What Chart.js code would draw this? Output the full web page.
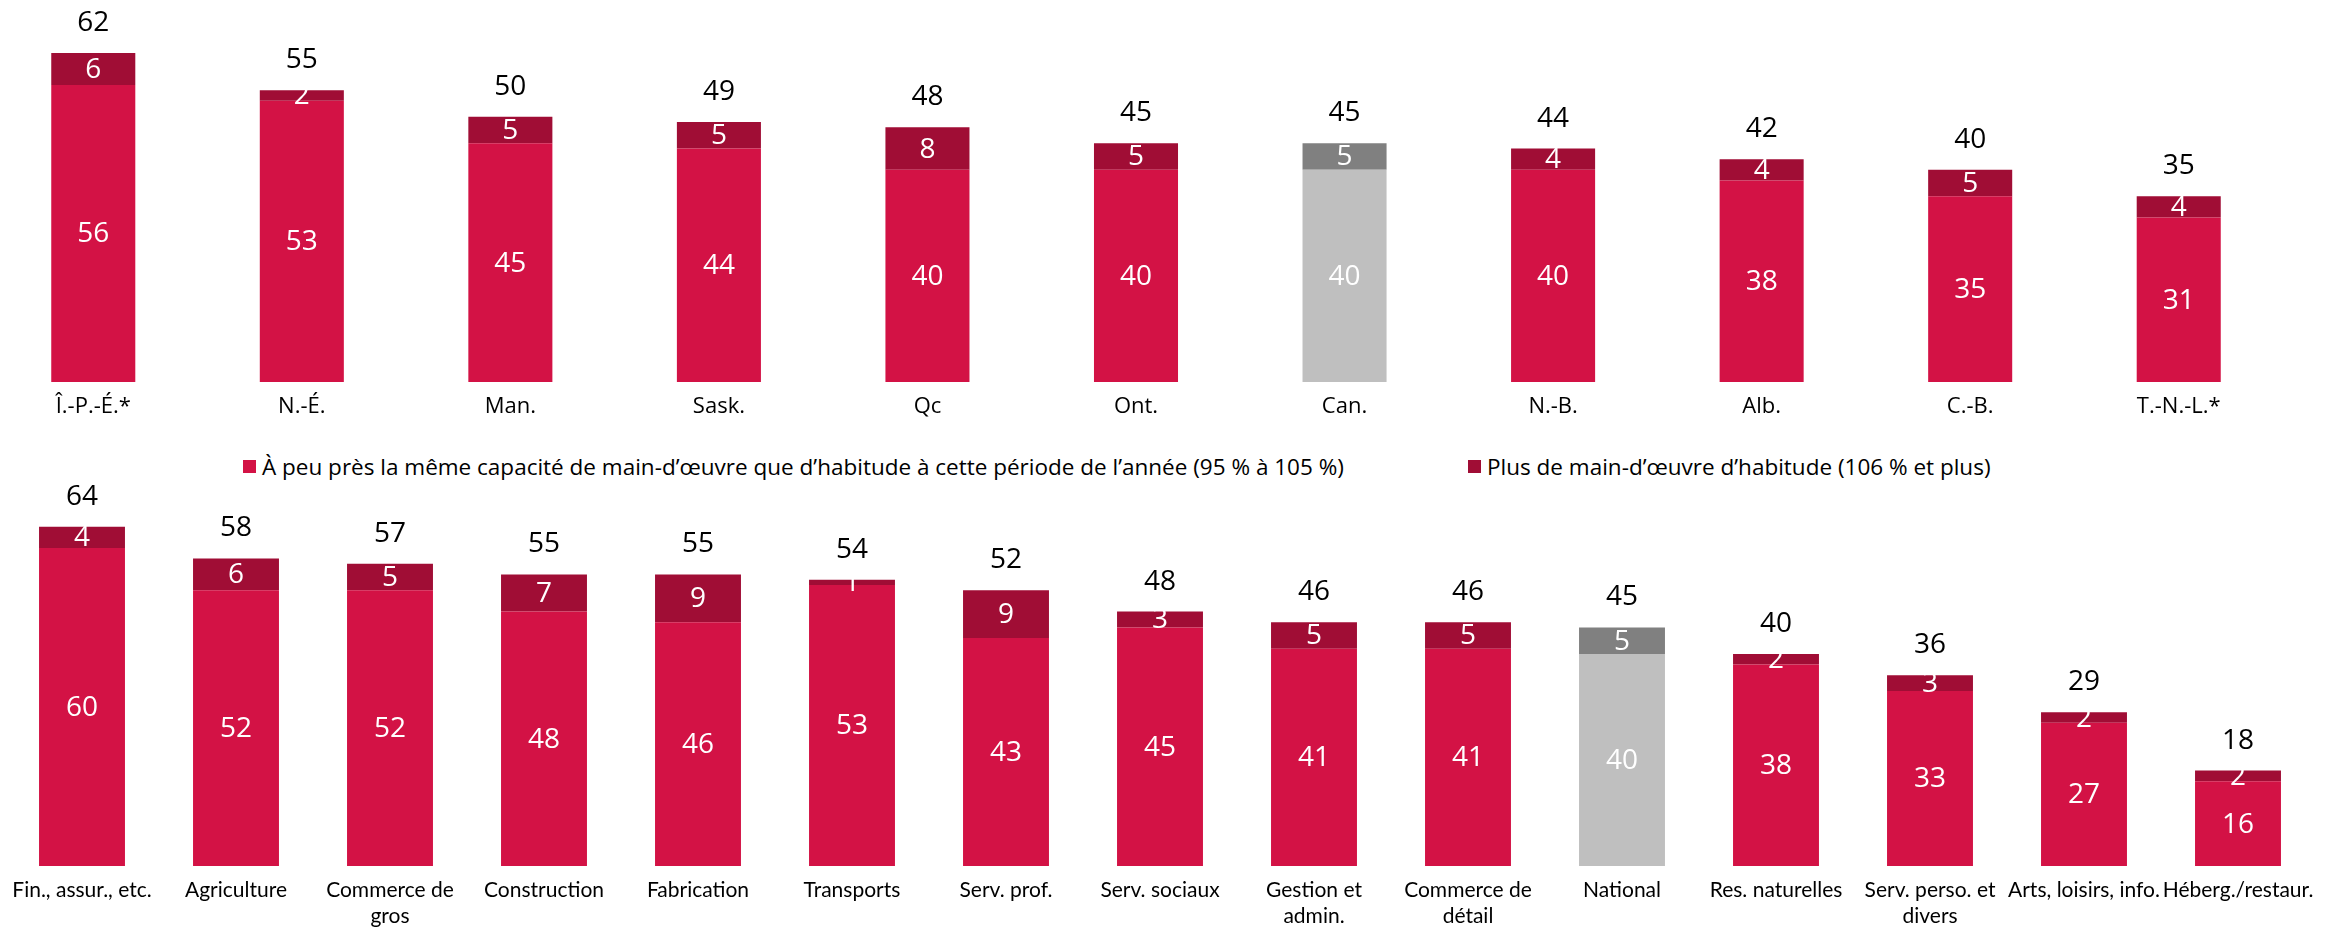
<!DOCTYPE html>
<html lang="fr">
<head>
<meta charset="utf-8">
<script src="https://cdn.jsdelivr.net/npm/chart.js@4.4.1/dist/chart.umd.min.js"></script>
<style>
    body { margin: 0; background: #fff; width: 2338px; height: 929px; overflow: hidden; position: relative; font-family: "Open Sans", sans-serif; }
    .chart-box { position: absolute; }
    #top-box { left: -11px; top: 0; width: 2294px; height: 440px; }
    #bottom-box { left: 5px; top: 470px; width: 2310px; height: 459px; }
    .legend-item { position: absolute; top: 451px; display: flex; align-items: center; font-size: 22.5px; color: #000; white-space: nowrap; }
    .legend-item span.box { display: inline-block; width: 13px; height: 13px; margin-right: 6px; }
</style>
</head>
<body>
<div class="chart-box" id="top-box"><canvas id="topChart"></canvas></div>
<div class="legend-item" style="left:243px"><span class="box" style="background:#D31245"></span>À peu près la même capacité de main-d’œuvre que d’habitude à cette période de l’année (95 % à 105 %)</div>
<div class="legend-item" style="left:1468px"><span class="box" style="background:#A00D35"></span>Plus de main-d’œuvre d’habitude (106 % et plus)</div>
<div class="chart-box" id="bottom-box"><canvas id="bottomChart"></canvas></div>
<script>
// Provinces
const provinces = ["Î.-P.-É.*", "N.-É.", "Man.", "Sask.", "Qc", "Ont.", "Can.", "N.-B.", "Alb.", "C.-B.", "T.-N.-L.*"];
const provSame = [56, 53, 45, 44, 40, 40, 40, 40, 38, 35, 31];
const provMore = [6, 2, 5, 5, 8, 5, 5, 4, 4, 5, 4];

// Secteurs
const sectors = ["Fin., assur., etc.", "Agriculture", ["Commerce de", "gros"], "Construction", "Fabrication", "Transports",
    "Serv. prof.", "Serv. sociaux", ["Gestion et", "admin."], ["Commerce de", "détail"], "National", "Res. naturelles",
    ["Serv. perso. et", "divers"], "Arts, loisirs, info.", "Héberg./restaur."];
const sectSame = [60, 52, 52, 48, 46, 53, 43, 45, 41, 41, 40, 38, 33, 27, 16];
const sectMore = [4, 6, 5, 7, 9, 1, 9, 3, 5, 5, 5, 2, 3, 2, 2];

const legendLabels = [
    "À peu près la même capacité de main-d’œuvre que d’habitude à cette période de l’année (95 % à 105 %)",
    "Plus de main-d’œuvre d’habitude (106 % et plus)"
];

const RED = "#D31245", DARK_RED = "#A00D35", LIGHT_GREY = "#BFBFBF", DARK_GREY = "#808080";
const FONT = "'Open Sans', sans-serif";

// draw the numbers inside the segments + total on top
const valueLabels = {
    id: "valueLabels",
    afterDatasetsDraw(chart) {
        const ctx = chart.ctx;
        ctx.save();
        ctx.textAlign = "center";
        ctx.textBaseline = "middle";
        ctx.font = "28px " + FONT;
        chart.data.datasets.forEach((ds, i) => {
            const meta = chart.getDatasetMeta(i);
            meta.data.forEach((bar, j) => {
                ctx.fillStyle = "#fff";
                ctx.fillText(ds.data[j], bar.x, (bar.y + bar.base) / 2 + 1);
            });
        });
        const last = chart.getDatasetMeta(chart.data.datasets.length - 1);
        last.data.forEach((bar, j) => {
            const total = chart.data.datasets.reduce((s, ds) => s + ds.data[j], 0);
            ctx.fillStyle = "#000";
            ctx.fillText(total, bar.x, bar.y - 30);
        });
        ctx.restore();
    }
};

function makeChart(canvasId, labels, same, more, refLabel, yMax, barPct, axisHeight, tickFont) {
    const sameColors = labels.map(l => l === refLabel ? LIGHT_GREY : RED);
    const moreColors = labels.map(l => l === refLabel ? DARK_GREY : DARK_RED);
    return new Chart(document.getElementById(canvasId), {
        type: "bar",
        data: {
            labels: labels,
            datasets: [
                { label: legendLabels[0], data: same, backgroundColor: sameColors, barPercentage: barPct, categoryPercentage: 1 },
                { label: legendLabels[1], data: more, backgroundColor: moreColors, barPercentage: barPct, categoryPercentage: 1 }
            ]
        },
        options: {
            responsive: true,
            maintainAspectRatio: false,
            animation: false,
            layout: { padding: 0 },
            plugins: { legend: { display: false }, tooltip: { enabled: false } },
            scales: {
                x: {
                    stacked: true,
                    grid: { display: false, drawTicks: false },
                    border: { display: false },
                    ticks: { color: "#000", font: tickFont, padding: 12, maxRotation: 0, autoSkip: false },
                    afterFit(axis) {
                        // fixed axis height, and no extra side padding for long labels
                        axis.height = axisHeight;
                        axis.paddingLeft = 0;
                        axis.paddingRight = 0;
                    }
                },
                y: { stacked: true, display: false, min: 0, max: yMax }
            }
        },
        plugins: [valueLabels]
    });
}

document.addEventListener("DOMContentLoaded", function () {
    makeChart("topChart", provinces, provSame, provMore, "Can.", 72, 0.403, 58, { family: FONT, size: 22 });
    makeChart("bottomChart", sectors, sectSame, sectMore, "National", 74.7, 0.558, 63, { family: "Lato, sans-serif", size: 21 });
});
</script>
</body>
</html>
